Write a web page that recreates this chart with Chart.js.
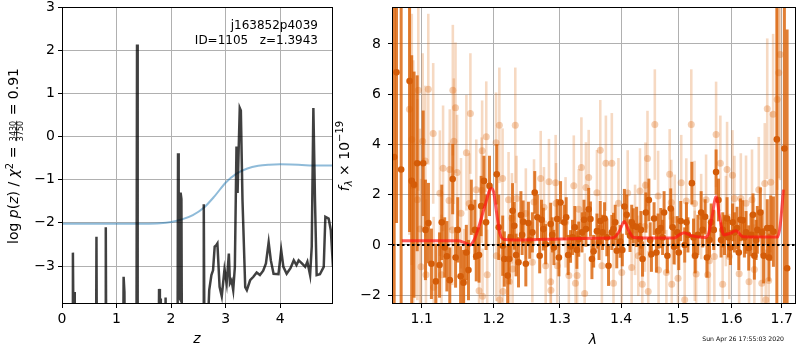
<!DOCTYPE html>
<html>
<head>
<meta charset="utf-8">
<script src="https://cdn.jsdelivr.net/npm/chart.js@4.4.0/dist/chart.umd.min.js"></script>
<style>
  body { margin: 0; background: #fff; }
  #wrap { position: relative; width: 800px; height: 350px; }
  canvas { position: absolute; top: 0; }
  #pz { left: 0; }
  #spec { left: 334px; }
</style>
</head>
<body>
<div id="wrap">
  <canvas id="pz" width="340" height="350"></canvas>
  <canvas id="spec" width="466" height="350"></canvas>
</div>
<script>
// left panel: log p(z)
const zTicks = [0, 1, 2, 3, 4];
const logPTicks = [-3, -2, -1, 0, 1, 2, 3];
const zLimits = [0, 4.97];
const logPLimits = [-3.88, 3];

const zPz = [0, 0.193, 0.20, 0.21, 0.222, 0.234, 0.622, 0.632, 0.642, 0.792, 0.803, 0.814,
  1.117, 1.13, 1.145, 1.157, 1.364, 1.376, 1.388, 1.767, 1.78, 1.795, 1.80, 1.812, 1.888, 1.90, 1.912,
  2.117, 2.128, 2.14, 2.16, 2.175, 2.19, 2.202, 2.588, 2.60, 2.617, 2.67, 2.70, 2.74, 2.77, 2.80,
  2.83, 2.85, 2.89, 2.93, 2.98, 3.02, 3.06, 3.08, 3.11, 3.14, 3.17, 3.20, 3.22, 3.24, 3.26,
  3.28, 3.31, 3.36, 3.39, 3.45, 3.51, 3.57, 3.63, 3.69, 3.74, 3.79, 3.83, 3.88, 3.97, 4.02,
  4.06, 4.12, 4.19, 4.25, 4.30, 4.34, 4.40, 4.46, 4.50, 4.55, 4.58, 4.61, 4.64, 4.67, 4.73,
  4.80, 4.83, 4.89, 4.93, 4.97];
const logPz = [-6, -6, -2.69, -4.3, -3.6, -6, -6, -2.32, -6, -6, -2.1, -6,
  -6, -3.25, -3.6, -6, -6, 2.13, -6, -6, -3.53, -3.9, -3.75, -6, -6, -3.73, -6,
  -6, -0.39, -3.7, -3.75, -1.3, -1.45, -6, -6, -1.57, -6, -4.5, -3.56, -3.21, -3.1, -2.55,
  -2.52, -2.48, -3.48, -3.7, -3.08, -3.4, -2.71, -3.4, -3.33, -3.56, -3.03, -0.23, -1.31, -0.3, 0.66,
  0.6, -1.47, -3.49, -3.56, -3.33, -3.25, -3.15, -3.21, -3.11, -2.94, -2.45, -2.87, -3.18, -3.19, -2.63,
  -3.02, -3.18, -3.05, -2.87, -2.98, -2.87, -2.94, -3.02, -2.9, -3.21, -2.55, 0.66, -1.5, -3.21, -3.19,
  -3.02, -1.86, -1.9, -2.17, -3.02];

const zChi = [0, 0.5, 1.0, 1.5, 1.8, 2.0, 2.2, 2.4, 2.6, 2.8, 3.0, 3.2, 3.4, 3.6, 3.8, 4.0, 4.2, 4.4, 4.6, 4.8, 4.97];
const chiCurve = [-2.02, -2.02, -2.02, -2.02, -2.01, -1.98, -1.92, -1.82, -1.65, -1.38, -1.07, -0.86,
  -0.74, -0.68, -0.655, -0.645, -0.65, -0.66, -0.67, -0.67, -0.67];

// right panel: spectrum
const lamTicks = [1.1, 1.2, 1.3, 1.4, 1.5, 1.6, 1.7];
const fluxTicks = [-2, 0, 2, 4, 6, 8];
const lamLimits = [1.0612, 1.7296];
const fluxLimits = [-2.35, 9.47];

const lamDark = [1.064, 1.067, 1.073, 1.084, 1.0868, 1.0899, 1.094, 1.102, 1.105, 1.109, 1.113,
  1.119, 1.124, 1.127, 1.131, 1.134, 1.138, 1.142, 1.146, 1.149, 1.153,
  1.157, 1.161, 1.164, 1.168, 1.173, 1.175, 1.179, 1.182, 1.186, 1.189,
  1.194, 1.2045, 1.2074, 1.2132, 1.2156, 1.2205, 1.2229, 1.2278, 1.2303, 1.2366,
  1.2402, 1.2436, 1.2476, 1.2515, 1.2575, 1.2611, 1.2651, 1.2687, 1.2743, 1.2779,
  1.2856, 1.2907, 1.2959, 1.3011, 1.3068, 1.3131, 1.3169, 1.3237, 1.3300, 1.3353,
  1.3417, 1.3461, 1.3490, 1.3514, 1.3542, 1.3596, 1.3651, 1.3689, 1.3722, 1.3788,
  1.3843, 1.3871, 1.3926, 1.3983, 1.4055, 1.4094, 1.4151, 1.4207, 1.4264, 1.4322,
  1.4367, 1.4425, 1.4477, 1.4522, 1.4569, 1.4640, 1.4687, 1.4746, 1.4805, 1.4865,
  1.4925, 1.4984, 1.5045, 1.5118, 1.5177, 1.5250, 1.5311, 1.5360, 1.5422, 1.5496,
  1.5578, 1.5659, 1.5703, 1.5748, 1.5798, 1.5863, 1.5913, 1.5978, 1.6055, 1.6106,
  1.6172, 1.6217, 1.6282, 1.6335, 1.6380, 1.6447, 1.6506, 1.6566, 1.6632, 1.6705,
  1.6776, 1.6830, 1.690, 1.7055, 1.7111,
  // points mostly hidden in the crowd
  1.2250, 1.2330, 1.2420, 1.2535, 1.2715, 1.2880, 1.2985, 1.3100, 1.3200, 1.3270,
  1.3385, 1.3630, 1.3760, 1.3900, 1.4020, 1.4180, 1.4340, 1.4500, 1.4610, 1.4720,
  1.4900, 1.5010, 1.5150, 1.5280, 1.5450, 1.5530, 1.5610, 1.5830, 1.5940, 1.6020,
  1.6140, 1.6250, 1.6420, 1.6480, 1.6600, 1.6740];
const fluxDark = [3.5, 6.87, 3.0, 6.52, 2.55, 2.4, 3.25, 3.25, 0.6, 0.87, -0.75,
  -1.45, -0.8, 0.9, -0.1, -0.45, -1.4, 2.62, -0.5, 0.6, -1.25,
  -1.5, -0.3, -1.0, 1.5, 0.6, -0.45, -0.4, 1.55, 2.55, 0.9,
  2.35, 2.81, 0.7, -0.03, -0.56, -1.22, -0.56, 1.36, 0.76, -0.69,
  1.19, 0.92, -0.75, 0.87, 0.5, 2.09, 1.1, -0.43, 0.63, 0.03,
  0.83, -0.1, 1.03, 1.69, 0.9, -0.4, -0.06, 0.7, 0.23, 0.5,
  0.63, 1.42, 1.03, -0.56, -0.25, 0.55, 0.95, 0.5, 1.05, -0.83,
  0.5, 0.63, -0.23, 0.14, 1.53, 1.2, 0.37, 0.76, 0.72, 0.23,
  -0.56, 1.29, 1.79, -0.37, 1.05, 0.55, 0.67, 1.29, -0.43, 1.45,
  -0.07, 0.5, 0.95, 0.0, 0.4, 2.46, -0.43, 0.4, 1.29, 1.12,
  0.2, 0.6, 2.9, 1.79, 0.2, 0.4, 1.05, -0.1, 0.5, 0.67,
  1.0, 0.98, 0.5, -0.12, 0.4, -0.43, 0.6, 1.29, -0.43, 0.67,
  0.67, 0.53, 4.2, 3.84, -0.93,
  0.3, -0.4, 0.4, 0.2, 1.0, 0.4, -0.5, 1.1, 0.3, -0.2,
  1.0, 0.1, 0.3, 0.9, -0.2, 0.9, 0.6, 0.2, -0.3, 0.3,
  0.7, -0.3, 0.9, 0.3, 0.6, -0.5, 0.9, 0.6, 0.3, 0.9,
  -0.3, 0.3, 1.2, 0.2, 0.5, -0.5];
const errDark = [9, 6, 14, 6, 5, 4.5, 3.5, 2.1, 2, 1.6, 1.4,
  1.5, 1.3, 1.5, 1.2, 1.4, 1.3, 1.4, 1.2, 1.3, 1.2,
  1.3, 1.1, 1.2, 1.1, 1.2, 1.0, 1.1, 1.2, 1.0, 1.1,
  1.2, 1.2, 1.3, 1.2, 1.1, 1.2, 1.0, 1.1, 0.95, 1.0,
  0.95, 0.85, 0.9, 0.85, 0.8, 0.85, 0.9, 0.7, 0.85, 0.8,
  0.85, 0.7, 0.8, 0.85, 0.7, 0.8, 0.65, 0.85, 0.7, 0.8,
  0.7, 0.85, 0.7, 0.8, 0.65, 0.7, 0.8, 0.7, 0.65, 0.8,
  0.7, 0.65, 0.7, 0.65, 0.7, 0.8, 0.65, 0.7, 0.8, 0.65,
  0.7, 0.8, 0.85, 0.7, 0.65, 0.7, 0.8, 0.85, 0.7, 0.8,
  0.7, 0.65, 0.8, 0.7, 0.7, 0.85, 0.7, 0.8, 0.85, 0.7,
  0.7, 0.8, 0.9, 0.85, 0.7, 0.8, 0.85, 0.7, 0.8, 0.85,
  0.85, 0.8, 0.85, 0.9, 0.85, 0.95, 0.95, 1.0, 1.1, 1.15,
  1.3, 1.4, 7, 15, 9.5,
  0.9, 0.85, 0.8, 0.75, 0.8, 0.7, 0.75, 0.8, 0.7, 0.75,
  0.8, 0.7, 0.75, 0.7, 0.65, 0.7, 0.75, 0.7, 0.8, 0.7,
  0.75, 0.7, 0.8, 0.75, 0.7, 0.8, 0.75, 0.7, 0.8, 0.75,
  0.7, 0.8, 0.85, 0.8, 0.9, 0.95];

const lamLight = [1.0838, 1.0869, 1.0889, 1.0942, 1.0955, 1.0978, 1.0991, 1.1013, 1.1048, 1.1057,
  1.1088, 1.1154, 1.1160, 1.1244, 1.1267, 1.1288, 1.1369, 1.1380, 1.1414, 1.1422,
  1.1436, 1.1459, 1.1481, 1.1535, 1.1580, 1.1611, 1.1650, 1.1667, 1.1750, 1.1790,
  1.1827, 1.1834, 1.1840, 1.1893, 1.1907, 1.2035, 1.2040, 1.2083, 1.2088, 1.2130,
  1.2135, 1.2218, 1.2229, 1.2268, 1.2278, 1.2318, 1.2337, 1.2476, 1.2575, 1.2600,
  1.2702, 1.2752, 1.2779, 1.2830, 1.2856, 1.2860, 1.2934, 1.2940, 1.2959, 1.3090,
  1.3142, 1.3221, 1.3248, 1.3274, 1.3300, 1.3343, 1.3396, 1.3417, 1.3461, 1.3596,
  1.3651, 1.3678, 1.3744, 1.3843, 1.3871, 1.3954, 1.4010, 1.4111, 1.4179, 1.4237,
  1.4293, 1.4322, 1.4362, 1.4408, 1.4418, 1.4453, 1.4466, 1.4582, 1.4640, 1.4648,
  1.4787, 1.4846, 1.4875, 1.4883, 1.4936, 1.4996, 1.5055, 1.5118, 1.5147, 1.5239,
  1.5300, 1.5303, 1.5329, 1.5422, 1.5514, 1.5545, 1.5576, 1.5670, 1.5703, 1.5784,
  1.5828, 1.5890, 1.5913, 1.5955, 1.6017, 1.6055, 1.6147, 1.6180, 1.6282, 1.6341,
  1.6400, 1.6447, 1.6535, 1.6595, 1.6655, 1.6676, 1.6705, 1.6734, 1.6776, 1.6824,
  1.6907, 1.6940, 1.6968];
const fluxLight = [5.4, 4.2, 2.35, 1.8, 6.16, 0.63, -0.87, 4.13, 3.34, -1.19,
  6.2, 4.44, -1.68, 2.06, -1.19, 3.05, 1.77, 3.0, 0.6, 6.16,
  4.13, 5.46, 2.88, 1.26, -1.46, 3.67, 1.65, 5.23, 2.2, -1.82,
  2.18, 3.75, -2.04, 4.31, -1.19, 4.07, -0.43, 4.76, -2.18, 2.64,
  -1.85, 1.8, -1.46, 1.06, -0.96, 4.76, 1.85, 1.25, -0.69, 1.71,
  2.64, 1.5, -0.83, 2.52, -1.46, -1.8, 2.48, 1.66, -0.83, 0.9,
  -1.22, 2.36, -1.52, -1.22, 1.42, 3.08, -1.93, 2.29, 2.68, 2.08,
  3.77, -0.83, 3.25, 3.25, -1.52, 1.66, -1.1, 2.07, -0.9, 0.6,
  -0.43, 2.15, -1.56, 0.73, 2.38, 3.44, -1.85, 4.79, 1.95, -1.0,
  -1.1, 2.81, 1.69, -1.56, 1.0, -1.33, 2.48, -2.18, 1.75, 4.79,
  1.65, -0.43, -1.16, 1.13, 1.8, -1.19, -0.63, -0.46, 4.4, 3.25,
  -1.56, 0.95, 3.0, -0.46, 2.77, 1.85, -1.15, 1.85, 1.66, -1.46,
  1.8, -0.98, 2.2, -1.52, 2.45, -2.18, 5.42, -1.41, 2.5, 5.2,
  5.79, 6.85, 7.58];
const errLight = [5, 5, 5, 4, 4, 4, 3.5, 3.5, 3, 3,
  3, 2.8, 2.8, 2.5, 2.4, 2.5, 2.3, 2.4, 2.2, 2.6,
  2.5, 2.6, 2.3, 2.2, 2.1, 2.3, 2.0, 2.4, 2.0, 1.9,
  2.1, 2.0, 1.9, 2.2, 1.8, 2.0, 1.8, 2.3, 1.8, 2.0,
  1.7, 1.9, 1.6, 1.8, 1.7, 2.3, 1.7, 1.8, 1.6, 1.7,
  1.9, 1.6, 1.8, 1.7, 1.6, 1.5, 1.9, 1.6, 1.7, 1.8,
  1.6, 2.0, 1.5, 1.7, 1.6, 2.0, 1.6, 1.8, 1.9, 1.7,
  2.0, 1.6, 1.9, 2.0, 1.6, 1.8, 1.5, 1.7, 1.6, 1.8,
  1.6, 1.7, 1.5, 1.8, 1.7, 1.9, 1.6, 2.2, 1.8, 1.6,
  1.7, 1.8, 1.7, 1.6, 1.8, 1.6, 1.9, 1.5, 1.7, 2.2,
  1.7, 1.8, 1.6, 1.7, 1.8, 1.6, 1.7, 1.8, 2.1, 1.9,
  1.6, 1.8, 1.9, 1.7, 1.8, 1.7, 1.6, 1.8, 1.9, 1.7,
  2.0, 1.8, 2.1, 1.9, 2.4, 2.0, 2.8, 2.2, 2.8, 3.2,
  3.6, 4.2, 5.0];

const lamModel = [1.0739, 1.10, 1.13, 1.149, 1.158, 1.1657, 1.1720, 1.1774, 1.187, 1.1965,
  1.2000, 1.2044, 1.209, 1.216, 1.24, 1.30, 1.35, 1.387, 1.397, 1.4053,
  1.4123, 1.4212, 1.45, 1.4931, 1.5020, 1.5108, 1.525, 1.55, 1.5560, 1.5617,
  1.5704, 1.578, 1.585, 1.597, 1.6086, 1.6216, 1.65, 1.692, 1.697, 1.7035];
const fluxModel = [0.17, 0.17, 0.17, 0.17, 0.1, 0.0, 0.2, 0.6, 1.52, 2.25,
  2.1, 1.26, 0.46, 0.22, 0.2, 0.24, 0.27, 0.29, 0.55, 0.93,
  0.6, 0.3, 0.28, 0.28, 0.40, 0.49, 0.36, 0.30, 0.45, 1.0,
  1.92, 1.0, 0.4, 0.46, 0.57, 0.33, 0.32, 0.32, 0.8, 2.2];

const FAMILY = '"DejaVu Sans"';
const F14 = '14px ' + FAMILY;
const I14 = 'italic 14px ' + FAMILY;
const F10 = '10px ' + FAMILY;
const I10 = 'italic 10px ' + FAMILY;
const F8 = '8px ' + FAMILY;

const pts = (xs, ys) => xs.map((x, i) => ({x: x, y: ys[i]}));
const minus = v => String(v).replace('-', '\u2212');

// draws a row of text pieces (mixed fonts, sub/superscripts, a fraction) centred on cx, baseline cy
function runWidth(ctx, r) {
    ctx.font = r.f;
    if (r.frac) return Math.max(ctx.measureText(r.frac[0]).width, ctx.measureText(r.frac[1]).width) + 2;
    return ctx.measureText(r.t).width;
}

function drawRuns(ctx, runs, cx, cy, angle) {
    ctx.save();
    ctx.translate(cx, cy);
    ctx.rotate(angle);
    const total = runs.reduce((s, r) => s + runWidth(ctx, r), 0);
    let x = -total / 2;
    ctx.fillStyle = '#000';
    ctx.strokeStyle = '#000';
    ctx.textBaseline = 'alphabetic';
    runs.forEach(r => {
        const w = runWidth(ctx, r);
        ctx.font = r.f;
        if (r.frac) {
            ctx.textAlign = 'center';
            ctx.fillText(r.frac[0], x + w / 2, -2.5);
            ctx.fillText(r.frac[1], x + w / 2, 5);
            ctx.lineWidth = 0.8;
            ctx.beginPath();
            ctx.moveTo(x + 1, -1.3);
            ctx.lineTo(x + w - 1, -1.3);
            ctx.stroke();
        } else {
            ctx.textAlign = 'left';
            ctx.fillText(r.t, x, r.dy || 0);
        }
        x += w;
    });
    ctx.restore();
}

const frame = {
    id: 'frame',
    afterDatasetsDraw(chart) {
        const {ctx, chartArea: a} = chart;
        ctx.save();
        ctx.strokeStyle = '#000';
        ctx.lineWidth = 1;
        ctx.strokeRect(Math.round(a.left) + 0.5, Math.round(a.top) + 0.5,
            Math.round(a.right - a.left) - 1, Math.round(a.bottom - a.top) - 1);
        ctx.restore();
    }
};

const errorBars = {
    id: 'errorBars',
    beforeDatasetDraw(chart, args) {
        const ds = chart.data.datasets[args.index];
        if (!ds.errors) return;
        const {ctx, chartArea: a, scales: {x, y}} = chart;
        ctx.save();
        ctx.beginPath();
        ctx.rect(a.left, a.top, a.right - a.left, a.bottom - a.top);
        ctx.clip();
        ctx.strokeStyle = ds.errorColor;
        ctx.lineWidth = ds.errorWidth;
        ds.data.forEach((p, i) => {
            const px = x.getPixelForValue(p.x);
            ctx.beginPath();
            ctx.moveTo(px, y.getPixelForValue(p.y - ds.errors[i]));
            ctx.lineTo(px, y.getPixelForValue(p.y + ds.errors[i]));
            ctx.stroke();
        });
        ctx.restore();
    }
};

function gridOpts() {
    return { color: '#b0b0b0', lineWidth: 1, tickColor: '#000', tickLength: 4, tickWidth: 1 };
}

function xAxis(type, limits, ticks, fmt) {
    return {
        type: type, min: limits[0], max: limits[1], bounds: 'data',
        afterBuildTicks: s => { s.ticks = ticks.map(v => ({value: v})); },
        afterFit: s => { s.height = 46; s.paddingLeft = 0; s.paddingRight = 0; },
        grid: gridOpts(),
        border: { display: false },
        ticks: { autoSkip: false, maxRotation: 0, padding: 3, color: '#000', font: { family: FAMILY, size: 14 }, callback: fmt }
    };
}

function yAxis(limits, ticks, width, pad) {
    return {
        type: 'linear', min: limits[0], max: limits[1], bounds: 'data',
        afterBuildTicks: s => { s.ticks = ticks.map(v => ({value: v})); },
        afterFit: s => { s.width = width; s.paddingTop = 0; s.paddingBottom = 0; },
        grid: gridOpts(),
        border: { display: false },
        ticks: { autoSkip: false, padding: pad, color: '#000', font: { family: FAMILY, size: 14 }, callback: v => minus(v) }
    };
}

const pzText = {
    id: 'pzText',
    afterDraw(chart) {
        const ctx = chart.ctx;
        drawRuns(ctx, [
            {t: 'log ', f: F14},
            {t: 'p', f: I14},
            {t: '(', f: F14},
            {t: 'z', f: I14},
            {t: ') / ', f: F14},
            {t: '\u03c7', f: I14},
            {t: '2', f: F10, dy: -5.5},
            {t: ' = ', f: F14},
            {frac: ['3430', '3750'], f: F8},
            {t: ' = 0.91', f: F14}
        ], 18, 156, -Math.PI / 2);
        drawRuns(ctx, [{t: 'z', f: I14}], 197, 343, 0);
        ctx.save();
        ctx.font = '12px ' + FAMILY;
        ctx.fillStyle = '#000';
        ctx.textAlign = 'right';
        ctx.fillText('j163852p4039', 318, 29);
        ctx.fillText('ID=1105   z=1.3943', 318, 44);
        ctx.restore();
    }
};

const specText = {
    id: 'specText',
    afterDraw(chart) {
        const ctx = chart.ctx;
        drawRuns(ctx, [
            {t: 'f', f: I14},
            {t: '\u03bb', f: I10, dy: 3},
            {t: ' \u00d7 10', f: F14},
            {t: '\u221219', f: F10, dy: -6}
        ], 14.5, 156, -Math.PI / 2);
        drawRuns(ctx, [{t: '\u03bb', f: I14}], 259, 344, 0);
        ctx.save();
        ctx.font = '6.2px ' + FAMILY;
        ctx.fillStyle = '#000';
        ctx.textAlign = 'right';
        ctx.fillText('Sun Apr 26 17:55:03 2020', 450, 341);
        ctx.restore();
    }
};

const common = {
    responsive: false,
    animation: false,
    events: [],
    plugins: { legend: { display: false }, tooltip: { enabled: false } }
};

new Chart(document.getElementById('pz'), {
    type: 'line',
    data: {
        datasets: [
            { data: pts(zPz, logPz), borderColor: 'rgba(0,0,0,0.75)', borderWidth: 2.5, pointRadius: 0, tension: 0, clip: 0, order: 0 },
            { data: pts(zChi, chiCurve), borderColor: 'rgba(31,119,180,0.5)', borderWidth: 2, pointRadius: 0, cubicInterpolationMode: 'monotone', clip: 0, order: 1 }
        ]
    },
    options: Object.assign({}, common, {
        layout: { padding: { top: 7, right: 7, left: 0, bottom: 0 } },
        scales: {
            x: xAxis('linear', zLimits, zTicks, v => minus(v)),
            y: yAxis(logPLimits, logPTicks, 62, 3)
        }
    }),
    plugins: [frame, pzText]
});

new Chart(document.getElementById('spec'), {
    type: 'scatter',
    data: {
        datasets: [
            { type: 'line', data: pts(lamLimits, [0, 0]), borderColor: '#000', borderWidth: 2, borderDash: [2.5, 2.5], pointRadius: 0, clip: 0, order: 0 },
            { type: 'line', data: pts(lamModel, fluxModel), borderColor: 'rgba(255,20,20,0.7)', borderWidth: 3, pointRadius: 0, cubicInterpolationMode: 'monotone', clip: 0, order: 1 },
            { data: pts(lamDark, fluxDark), errors: errDark, errorColor: 'rgba(217,95,2,0.8)', errorWidth: 3,
              pointRadius: 3.3, pointBackgroundColor: 'rgb(212,92,8)', pointBorderWidth: 0, clip: 0, order: 2 },
            { data: pts(lamLight, fluxLight), errors: errLight, errorColor: 'rgba(217,95,2,0.24)', errorWidth: 2.6,
              pointRadius: 3.5, pointBackgroundColor: 'rgba(217,95,2,0.3)', pointBorderWidth: 0, clip: 0, order: 3 }
        ]
    },
    options: Object.assign({}, common, {
        layout: { padding: { top: 7, right: 1, left: 0, bottom: 0 } },
        scales: {
            x: xAxis('logarithmic', lamLimits, lamTicks, v => v.toFixed(1)),
            y: yAxis(fluxLimits, fluxTicks, 58, 7)
        }
    }),
    plugins: [frame, errorBars, specText]
});
</script>
</body>
</html>
